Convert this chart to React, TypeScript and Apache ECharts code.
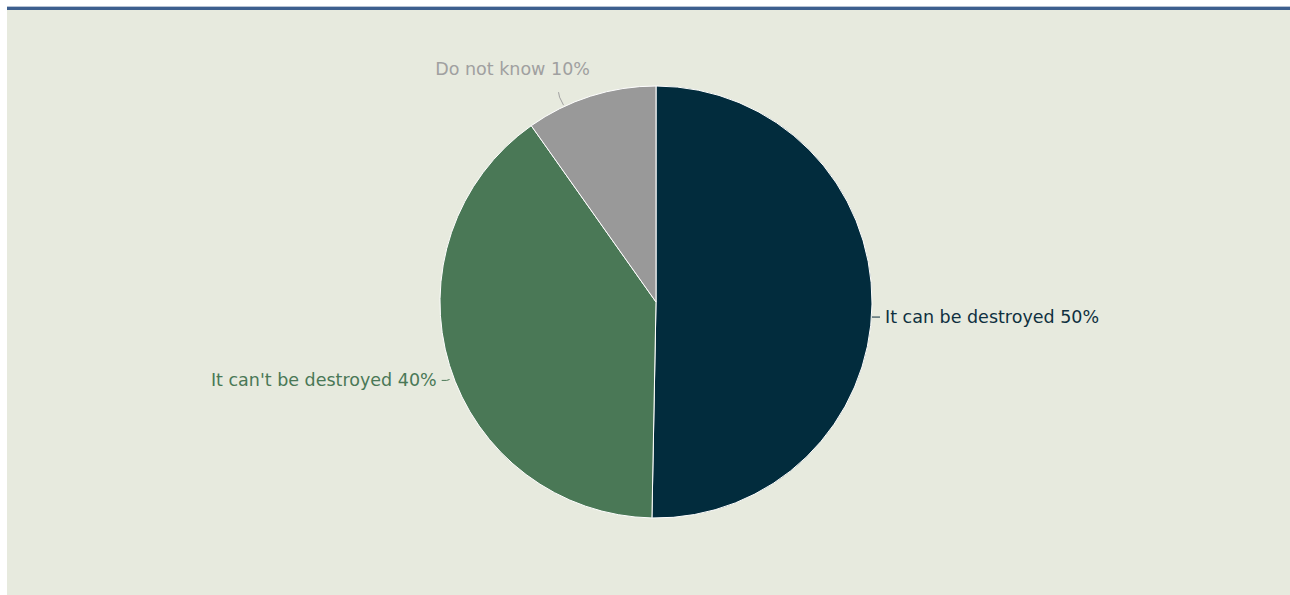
import React, { useEffect, useRef } from "react";
import * as echarts from "echarts";

const categories = ["It can be destroyed", "It can't be destroyed", "Do not know"];
const values = [50.3, 39.9, 9.8];
const labelPercents = ["50%", "40%", "10%"];
const sliceColors = ["#022c3d", "#4a7856", "#999999"];
const labelColors = ["#0f3040", "#4a7856", "#a0a0a0"];

export default function App() {
  const ref = useRef<HTMLDivElement>(null);
  useEffect(() => {
    if (!ref.current) return;
    const chart = echarts.init(ref.current, undefined, { renderer: "svg" });
    chart.setOption({
      animation: false,
      backgroundColor: "#e7eade",
      graphic: [
        { type: "rect", left: 0, top: 0, shape: { width: 1283, height: 1 }, style: { fill: "#b7c3d4" } },
        { type: "rect", left: 0, top: 1, shape: { width: 1283, height: 3 }, style: { fill: "#3d5f8e" } },
      ],
      series: [
        {
          type: "pie",
          center: [649, 296],
          radius: 216,
          startAngle: 90,
          clockwise: true,
          avoidLabelOverlap: false,
          itemStyle: { borderColor: "#ffffff", borderWidth: 1 },
          label: {
            show: true,
            position: "outside",
            fontFamily: "'DejaVu Sans', sans-serif",
            fontSize: 17.5,
            formatter: (p: any) => `${categories[p.dataIndex]} ${labelPercents[p.dataIndex]}`,
          },
          labelLine: { show: true, length: 3, length2: 5, lineStyle: { width: 1 } },
          labelLayout: (params: any) => {
            const pts = params.labelLinePoints;
            if (!pts) return {};
            if (params.dataIndex === 2) {
              const p0 = pts[0];
              return {
                x: p0[0] - 78,
                y: p0[1] - 27,
                align: "center",
                verticalAlign: "middle",
                labelLinePoints: [
                  [p0[0] - 27, p0[1] + 9],
                  [p0[0] - 31, p0[1] + 1],
                  [p0[0] - 32, p0[1] - 4],
                ],
              };
            }
            const dy = params.dataIndex === 0 ? 13 : 14;
            return {
              dy,
              labelLinePoints: pts.map((p: number[]) => [p[0], p[1] + dy]),
            };
          },
          data: categories.map((c, i) => ({
            name: c,
            value: values[i],
            itemStyle: { color: sliceColors[i] },
            label: { color: labelColors[i] },
            labelLine: { lineStyle: { color: labelColors[i] } },
          })),
        },
      ],
    });
    return () => chart.dispose();
  }, []);
  return (
    <div
      ref={ref}
      style={{ position: "absolute", left: 7, top: 6, width: 1283, height: 589 }}
    />
  );
}
